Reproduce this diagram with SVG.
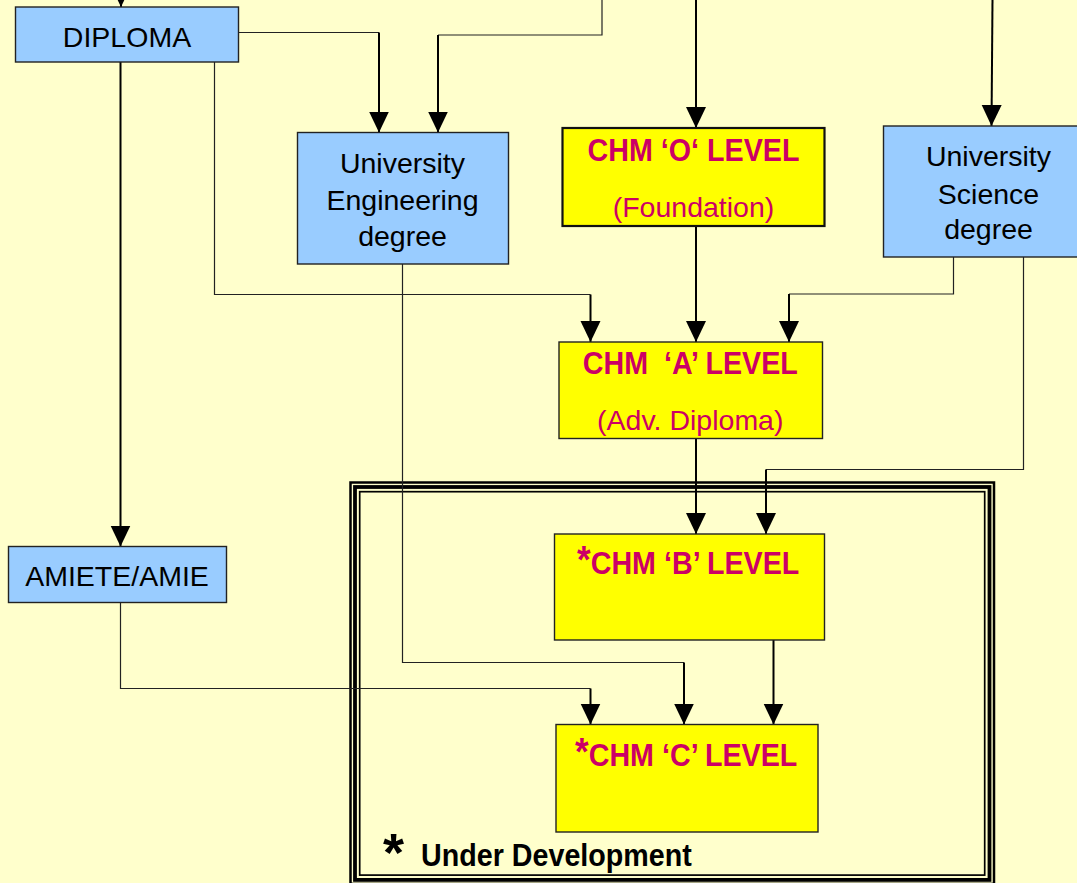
<svg xmlns="http://www.w3.org/2000/svg" width="1077" height="883" viewBox="0 0 1077 883">
<style>
.bg{fill:#FFFFCC}
.blue{fill:#99CCFF;stroke:#222;stroke-width:1.4}
.yel{fill:#FFFF00;stroke:#222;stroke-width:1.4}
.reg{font-family:"Liberation Sans",Arial,sans-serif;font-size:28.5px;fill:#000;text-anchor:middle}
.mag{fill:#CC0066}
.bold{font-family:"Liberation Sans",Arial,sans-serif;font-weight:bold;font-size:31px;fill:#CC0066}
.thin{fill:none;stroke:#222;stroke-width:1.2}
.thick{fill:none;stroke:#000;stroke-width:2;marker-end:url(#ah)}
.frame{fill:none;stroke:#000}
</style>
<defs>
<marker id="ah" markerUnits="userSpaceOnUse" markerWidth="22" markerHeight="21" refX="21" refY="10" orient="auto">
<path d="M0,0 L21,10 L0,20 z" fill="#000"/>
</marker>
</defs>
<rect class="bg" x="0" y="0" width="1077" height="883"/>

<g id="under-development-frame">
<rect class="frame" x="350.5" y="482.5" width="643.5" height="401.4" stroke-width="2.5"/>
<rect class="frame" x="355" y="487" width="634.5" height="392.9" stroke-width="3.8"/>
<rect class="frame" x="359.7" y="491.7" width="625" height="383.4" stroke-width="1.7"/>
</g>

<g id="connectors">
<line class="thick" x1="121" y1="-40" x2="121" y2="7"/>
<path class="thin" d="M238.7,32.5 H379"/>
<line class="thick" x1="379" y1="32.5" x2="379" y2="132.5"/>
<path class="thin" d="M602,0 V35 H438"/>
<line class="thick" x1="438" y1="35" x2="438" y2="132.5"/>
<line class="thick" x1="696" y1="0" x2="696" y2="128"/>
<line class="thick" x1="992.5" y1="0" x2="991.5" y2="126"/>
<line class="thick" x1="120.5" y1="62" x2="120.5" y2="546.5"/>
<path class="thin" d="M214.5,62 V294.5 H590.5"/>
<line class="thick" x1="590.5" y1="294.5" x2="590.5" y2="342"/>
<line class="thick" x1="696" y1="226" x2="696" y2="342"/>
<path class="thin" d="M953.5,257 V294 H789"/>
<line class="thick" x1="789" y1="294" x2="789" y2="342"/>
<path class="thin" d="M402.5,264 V662.5 H684"/>
<line class="thick" x1="684" y1="662.5" x2="684" y2="724.5"/>
<line class="thick" x1="696" y1="438.5" x2="696" y2="534"/>
<path class="thin" d="M1023.5,257 V469.5 H766"/>
<line class="thick" x1="766" y1="469.5" x2="766" y2="534"/>
<line class="thick" x1="773.5" y1="640" x2="773.5" y2="724.5"/>
<path class="thin" d="M120.5,602 V688.5 H590.5"/>
<line class="thick" x1="590.5" y1="688.5" x2="590.5" y2="724.5"/>
</g>

<g id="diploma">
<rect class="blue" x="15.5" y="7" width="223" height="55"/>
<text class="reg" x="127" y="46.5">DIPLOMA</text>
</g>

<g id="university-engineering-degree">
<rect class="blue" x="297.5" y="132.5" width="211" height="131.5"/>
<text class="reg" x="402.5" y="172.5">University</text>
<text class="reg" x="402.5" y="210">Engineering</text>
<text class="reg" x="402.5" y="246">degree</text>
</g>

<g id="chm-o-level">
<rect class="yel" x="562.5" y="128" width="262" height="98" style="stroke:#111;stroke-width:2.2"/>
<text class="bold" transform="translate(693.5,161) scale(0.925,1)" text-anchor="middle">CHM ‘O‘ LEVEL</text>
<text class="reg mag" x="693.5" y="216.5">(Foundation)</text>
</g>

<g id="university-science-degree">
<rect class="blue" x="883.5" y="126" width="211" height="131"/>
<text class="reg" x="988.5" y="165.5">University</text>
<text class="reg" x="988.5" y="204">Science</text>
<text class="reg" x="988.5" y="238.5">degree</text>
</g>

<g id="chm-a-level">
<rect class="yel" x="559" y="342" width="263.5" height="96.5"/>
<text class="bold" transform="translate(690.3,374.3) scale(0.925,1)" text-anchor="middle" xml:space="preserve">CHM  ‘A’ LEVEL</text>
<text class="reg mag" x="690.3" y="430">(Adv. Diploma)</text>
</g>

<g id="amiete-amie">
<rect class="blue" x="8.5" y="546.5" width="218" height="56"/>
<text class="reg" x="117" y="585.5">AMIETE/AMIE</text>
</g>

<g id="chm-b-level">
<rect class="yel" x="554.5" y="534" width="270" height="106"/>
<text class="bold" transform="translate(577,574) scale(0.925,1)"><tspan font-size="38" dy="-1">*</tspan><tspan dy="1">CHM ‘B’ LEVEL</tspan></text>
</g>

<g id="chm-c-level">
<rect class="yel" x="556" y="724.5" width="262" height="107.5"/>
<text class="bold" transform="translate(575,765.7) scale(0.925,1)"><tspan font-size="38" dy="-1">*</tspan><tspan dy="1">CHM ‘C’ LEVEL</tspan></text>
</g>

<g id="legend">
<text font-family="'Liberation Sans',Arial,sans-serif" font-weight="bold" font-size="54" fill="#000" x="383" y="871">*</text>
<text class="bold" style="fill:#000" transform="translate(421,865.7) scale(0.925,1)">Under Development</text>
</g>
</svg>
